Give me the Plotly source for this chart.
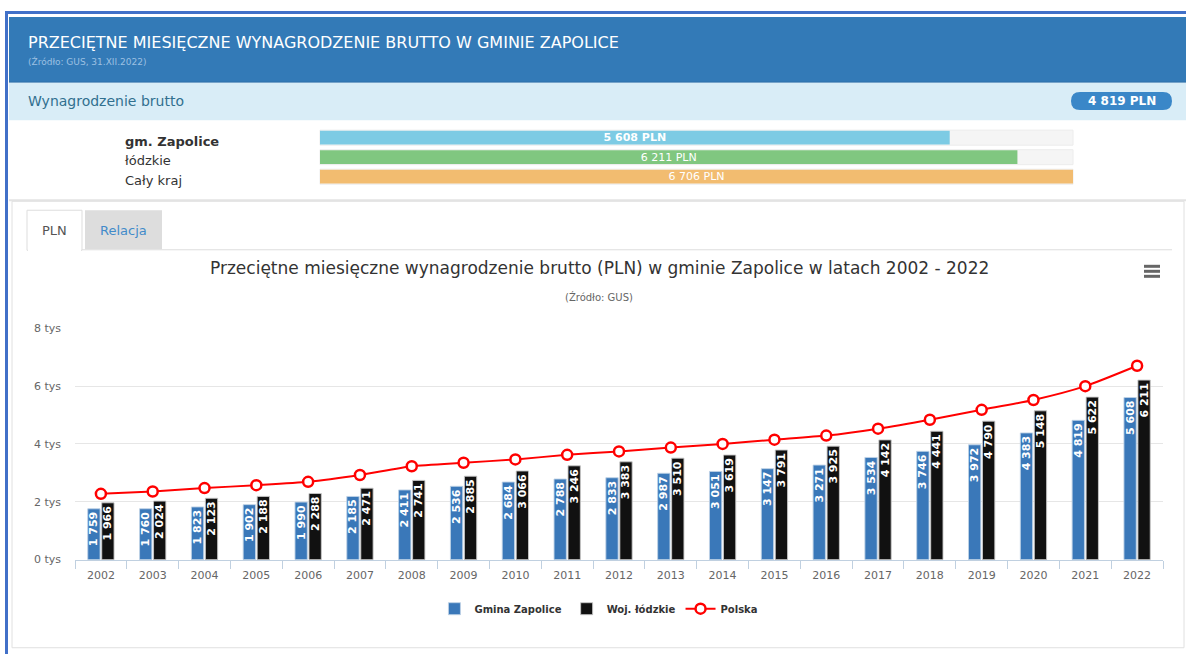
import plotly.graph_objects as go

# ---------------- data ----------------
years = [str(y) for y in range(2002, 2023)]
gmina = [1759, 1760, 1823, 1902, 1990, 2185, 2411, 2536, 2684, 2788, 2833,
         2987, 3051, 3147, 3271, 3534, 3746, 3972, 4383, 4819, 5608]
lodzkie = [1966, 2024, 2123, 2188, 2288, 2471, 2741, 2885, 3066, 3246, 3383,
           3510, 3619, 3791, 3925, 4142, 4441, 4790, 5148, 5622, 6211]
polska = [2277, 2356, 2476, 2575, 2691, 2928, 3231, 3352, 3466, 3626, 3744,
          3877, 4004, 4151, 4291, 4530, 4839, 5182, 5523, 6001, 6706]

cmp_labels = ["gm. Zapolice", "łódzkie", "Cały kraj"]
cmp_values = [5608, 6211, 6706]
cmp_colors = ["#7dcbe4", "#80c780", "#f2bc70"]

badge_value = 4819
ytick_vals = [0, 2000, 4000, 6000, 8000]
ytick_text = ["0 tys", "2 tys", "4 tys", "6 tys", "8 tys"]

W, H = 1186, 654
FONT = "DejaVu Sans"
# vertical calibration (observed renderer mapping)
VS, VOFF = 0.979, 6.0


def fmt(v):
    return f"{v:,}".replace(",", " ")


def px(x):
    return x / W


def py(y):
    return 1 - ((y - VOFF) / VS) / H


fig = go.Figure()

# ---------------- main chart ----------------
fig.add_trace(go.Bar(
    x=years, y=gmina, name="Gmina Zapolice",
    marker=dict(color="#3a78b9", line=dict(color="rgba(190,210,230,0.9)", width=1)),
    text=[fmt(v) for v in gmina], textposition="inside", insidetextanchor="end",
    textangle=-90, textfont=dict(color="white", size=11, family=FONT, weight="bold"),
    cliponaxis=False, xaxis="x", yaxis="y",
))
fig.add_trace(go.Bar(
    x=years, y=lodzkie, name="Woj. łódzkie",
    marker=dict(color="#111111", line=dict(color="rgba(200,200,200,0.9)", width=1)),
    text=[fmt(v) for v in lodzkie], textposition="inside", insidetextanchor="end",
    textangle=-90, textfont=dict(color="white", size=11, family=FONT, weight="bold"),
    cliponaxis=False, xaxis="x", yaxis="y",
))
fig.add_trace(go.Scatter(
    x=years, y=polska, name="Polska", mode="lines+markers",
    line=dict(color="#ff0000", width=2, shape="spline", smoothing=0.6),
    marker=dict(symbol="circle", size=10, color="white",
                line=dict(color="#ff0000", width=2.5)),
    xaxis="x", yaxis="y", cliponaxis=False,
))

# ---------------- comparison bars ----------------
cmp_text = [fmt(v) + " PLN" for v in cmp_values]
cmp_text[0] = "<b>" + cmp_text[0] + "</b>"
fig.add_trace(go.Bar(
    x=cmp_values, y=cmp_labels, orientation="h", width=0.7,
    marker=dict(color=cmp_colors, line=dict(width=0)),
    text=cmp_text, textposition="inside",
    insidetextanchor="middle", textangle=0,
    textfont=dict(color="white", size=11, family=FONT),
    showlegend=False, xaxis="x2", yaxis="y2", hoverinfo="skip",
))

shapes = []
annotations = []

# page borders / header
shapes.append(dict(type="rect", xref="paper", yref="paper", x0=px(5), x1=px(1186), y0=py(660), y1=py(11),
                   fillcolor="white", line=dict(width=0), layer="below"))
shapes.append(dict(type="rect", xref="paper", yref="paper", x0=px(5), x1=px(8), y0=py(660), y1=py(11),
                   fillcolor="#4170c8", line=dict(width=0), layer="below"))
shapes.append(dict(type="rect", xref="paper", yref="paper", x0=px(5), x1=px(1186), y0=py(14), y1=py(11),
                   fillcolor="#4170c8", line=dict(width=0), layer="below"))
shapes.append(dict(type="rect", xref="paper", yref="paper", x0=px(9), x1=px(1186), y0=py(82), y1=py(17),
                   fillcolor="#337ab7", line=dict(width=0), layer="below"))
shapes.append(dict(type="rect", xref="paper", yref="paper", x0=px(9), x1=px(1186), y0=py(120), y1=py(82),
                   fillcolor="#d9edf7", line=dict(width=0), layer="below"))
shapes.append(dict(type="line", xref="paper", yref="paper", x0=px(9), x1=px(1186), y0=py(82), y1=py(82),
                   line=dict(color="#2f6fa8", width=1), layer="below"))
# panel
shapes.append(dict(type="line", xref="paper", yref="paper", x0=px(9), x1=px(1186), y0=py(200), y1=py(200),
                   line=dict(color="#e3e3e3", width=2), layer="below"))
shapes.append(dict(type="rect", xref="paper", yref="paper", x0=px(12), x1=px(1184), y0=py(647), y1=py(201),
                   fillcolor="rgba(0,0,0,0)", line=dict(color="#e0e0e0", width=1), layer="below"))

# badge (rounded)
bx0, bx1, by0, by1, r = 1071, 1172, 92, 110, 9
path = (f"M {px(bx0 + r)},{py(by0)} L {px(bx1 - r)},{py(by0)} "
        f"Q {px(bx1)},{py(by0)} {px(bx1)},{py((by0 + by1) / 2)} "
        f"Q {px(bx1)},{py(by1)} {px(bx1 - r)},{py(by1)} "
        f"L {px(bx0 + r)},{py(by1)} "
        f"Q {px(bx0)},{py(by1)} {px(bx0)},{py((by0 + by1) / 2)} "
        f"Q {px(bx0)},{py(by0)} {px(bx0 + r)},{py(by0)} Z")
shapes.append(dict(type="path", xref="paper", yref="paper", path=path,
                   fillcolor="#3a87c8", line=dict(width=0)))

# progress tracks
for yc in [137.5, 157, 176.5]:
    shapes.append(dict(type="rect", xref="paper", yref="paper", x0=px(320), x1=px(1073),
                       y0=py(yc + 7.5), y1=py(yc - 7.5), fillcolor="#f5f5f5",
                       line=dict(color="#ececec", width=1), layer="below"))

# tabs
shapes.append(dict(type="line", xref="paper", yref="paper", x0=px(27), x1=px(1172), y0=py(249.5), y1=py(249.5),
                   line=dict(color="#dddddd", width=1), layer="below"))
shapes.append(dict(type="rect", xref="paper", yref="paper", x0=px(27), x1=px(82), y0=py(250), y1=py(210),
                   fillcolor="white", line=dict(color="#dddddd", width=1), layer="below"))
shapes.append(dict(type="rect", xref="paper", yref="paper", x0=px(28), x1=px(81), y0=py(251), y1=py(248),
                   fillcolor="white", line=dict(width=0), layer="below"))
shapes.append(dict(type="rect", xref="paper", yref="paper", x0=px(85), x1=px(162), y0=py(249), y1=py(210),
                   fillcolor="#dddddd", line=dict(width=0), layer="below"))

# hamburger
for yy in [266, 271, 276]:
    shapes.append(dict(type="line", xref="paper", yref="paper", x0=px(1144), x1=px(1160), y0=py(yy), y1=py(yy),
                       line=dict(color="#666666", width=3)))

# texts
annotations += [
    dict(text="PRZECIĘTNE MIESIĘCZNE WYNAGRODZENIE BRUTTO W GMINIE ZAPOLICE", x=px(26), y=py(42),
         xanchor="left", yanchor="middle", font=dict(family=FONT, size=16, color="white")),
    dict(text="(Źródło: GUS, 31.XII.2022)", x=px(26), y=py(61), xanchor="left", yanchor="middle",
         font=dict(family=FONT, size=9, color="#9cc0e2")),
    dict(text="Wynagrodzenie brutto", x=px(26), y=py(101), xanchor="left", yanchor="middle",
         font=dict(family=FONT, size=14, color="#31708f")),
    dict(text=f"<b>{fmt(badge_value)} PLN</b>", x=px(1121.5), y=py(101), xanchor="center", yanchor="middle",
         font=dict(family=FONT, size=12, color="white")),
    dict(text="PLN", x=px(54.5), y=py(230), xanchor="center", yanchor="middle",
         font=dict(family=FONT, size=13, color="#555555")),
    dict(text="Relacja", x=px(123.5), y=py(230), xanchor="center", yanchor="middle",
         font=dict(family=FONT, size=13, color="#428bca")),
    dict(text="Przeciętne miesięczne wynagrodzenie brutto (PLN) w gminie Zapolice w latach 2002 - 2022",
         x=px(599), y=py(268), xanchor="center", yanchor="middle",
         font=dict(family=FONT, size=17, color="#333333")),
    dict(text="(Źródło: GUS)", x=px(599), y=py(297), xanchor="center", yanchor="middle",
         font=dict(family=FONT, size=10, color="#666666")),
]
for i, (lab, yc) in enumerate(zip(cmp_labels, [141, 160, 180])):
    annotations.append(dict(text=f"<b>{lab}</b>" if i == 0 else lab, x=px(123), y=py(yc),
                            xanchor="left", yanchor="middle",
                            font=dict(family=FONT, size=13, color="#333333")))
for a in annotations:
    a.update(xref="paper", yref="paper", showarrow=False)

fig.update_layout(
    width=W, height=H, autosize=False,
    margin=dict(l=0, r=0, t=0, b=0),
    paper_bgcolor="white", plot_bgcolor="rgba(0,0,0,0)",
    font=dict(family=FONT, color="#333333"),
    barmode="group", bargap=0.46, bargroupgap=0.12,
    uniformtext=dict(minsize=10, mode="show"),
    shapes=shapes, annotations=annotations,
    showlegend=True,
    legend=dict(orientation="h", x=0.505, xanchor="center", y=py(608), yanchor="middle",
                font=dict(family=FONT, size=10, color="#333333", weight="bold"),
                itemwidth=30, tracegroupgap=0, bgcolor="rgba(0,0,0,0)"),
    xaxis=dict(domain=[px(75), px(1163)], type="category", range=[-0.5, len(years) - 0.5],
               showgrid=False, showline=True, linecolor="#c0d0e0", linewidth=1,
               ticks="outside", tickson="boundaries", ticklen=8, tickcolor="#c0d0e0",
               ticklabelstandoff=5,
               tickfont=dict(family=FONT, size=11, color="#666666"), fixedrange=True),
    yaxis=dict(domain=[py(559), py(328)], range=[0, 8000], tickvals=ytick_vals, ticktext=ytick_text,
               showgrid=True, gridcolor="#e6e6e6", gridwidth=1, zeroline=False, showline=False,
               ticklabelstandoff=13,
               tickfont=dict(family=FONT, size=11, color="#666666"), fixedrange=True),
    xaxis2=dict(domain=[px(320), px(1073)], range=[0, max(cmp_values)], visible=False, fixedrange=True,
                anchor="y2"),
    yaxis2=dict(domain=[py(186.25), py(127.75)], type="category", autorange="reversed",
                visible=False, fixedrange=True, anchor="x2"),
)

post = (
    "document.documentElement.style.margin='0';"
    "document.documentElement.style.overflow='hidden';"
    "document.body.style.margin='0';"
    "document.body.style.overflow='hidden';"
    "var d=document.getElementById('{plot_id}');"
    "d.style.position='fixed';d.style.top='0px';d.style.left='0px';"
)
fig.write_html("out.html", config={"displayModeBar": False}, post_script=post)
